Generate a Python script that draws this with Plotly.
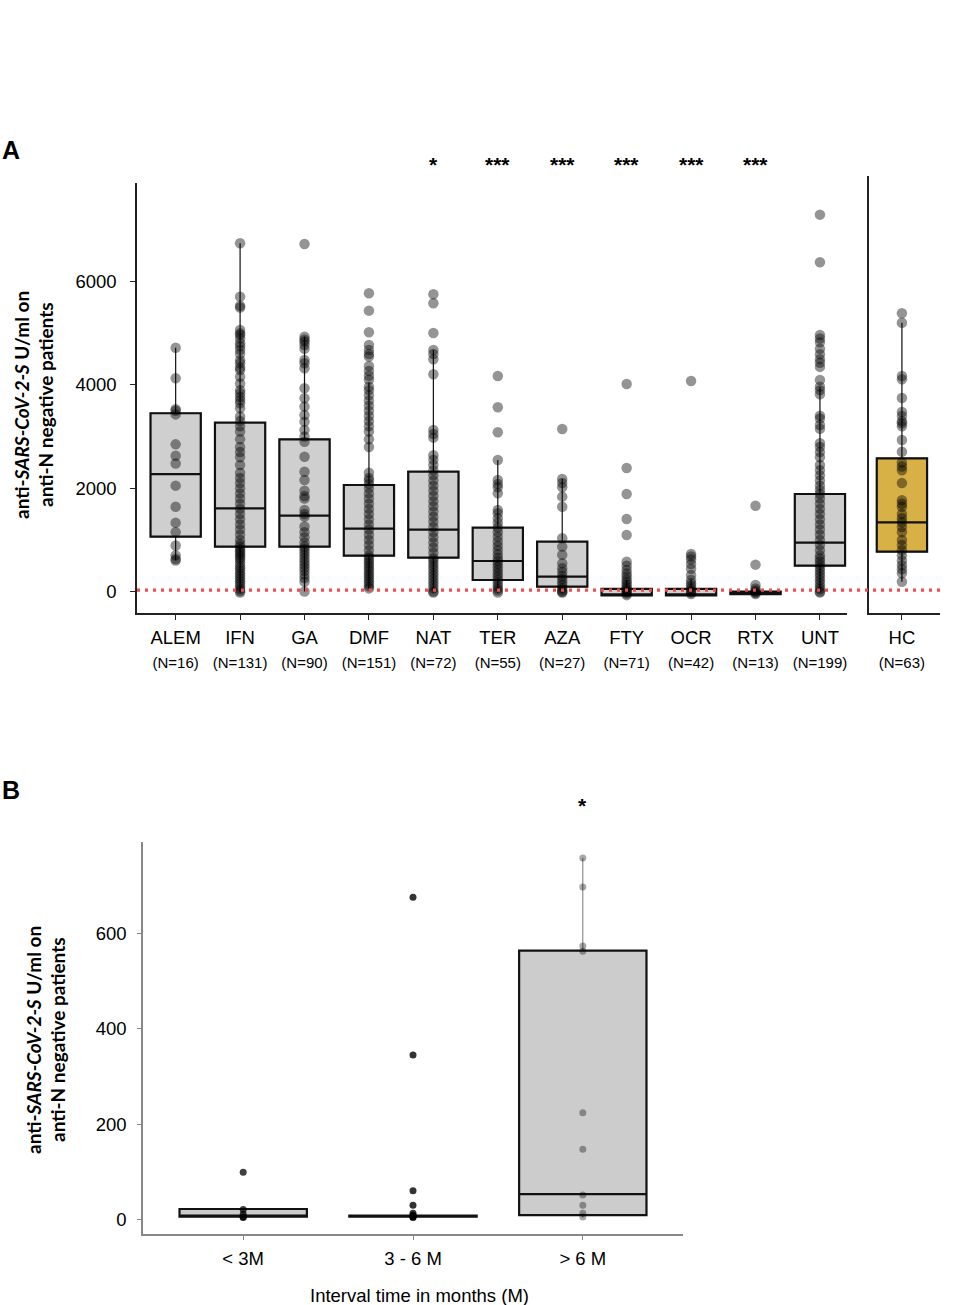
import plotly.graph_objects as go

W, H = 957, 1305

# ---------------- Panel A data ----------------
cats_a = ["ALEM", "IFN", "GA", "DMF", "NAT", "TER", "AZA", "FTY", "OCR", "RTX", "UNT"]
n_a = [16, 131, 90, 151, 72, 55, 27, 71, 42, 13, 199]
stars_a = ["", "", "", "", "*", "***", "***", "***", "***", "***", ""]
q1_a = [1063, 868, 868, 694, 655, 223, 93, -75, -75, -50, 500]
med_a = [2274, 1611, 1468, 1217, 1197, 591, 287, -55, -55, -25, 946]
q3_a = [3452, 3270, 2948, 2063, 2321, 1236, 965, 50, 50, 0, 1889]
lo_a = [600, -20, 0, 60, -20, -20, -20, -75, -75, -50, -20]
hi_a = [4720, 6745, 4935, 4050, 4678, 2547, 2180, 220, 230, 0, 3968]

pts_alem = [4720, 4130, 3530, 3500, 3430, 2850, 2630, 2480, 2050, 1640, 1330, 1150, 890, 700, 630, 600]
pts_ifn = [6745, 5711, 5536, 5500, 5065, 5000, 4970, 4900, 4810, 4750, 4680, 4600, 4480, 4420, 4340,
           4290, 4160, 4030, 3900, 3840, 3770, 3710, 3645, 3550, 3390, 3300, 3200, 3100, 2950, 2800,
           2700, 2600, 2450, 2300, 2200, 2100, 2000, 1900, 1800, 1700, 1600, 1500, 1400, 1300, 1200,
           1100, 1000, 920, 870, 820, 780, 740, 700, 660, 620, 560, 500, 450, 400, 350, 300, 250, 200,
           150, 100, 50, 10, -20]
pts_ga = [6730, 4935, 4880, 4840, 4775, 4700, 4485, 4420, 4323, 3936, 3742, 3581, 3420, 3290, 3129,
          3000, 2900, 2610, 2320, 2160, 1950, 1850, 1800, 1580, 1500, 1450, 1260, 1150, 1050, 950, 870,
          820, 760, 700, 640, 580, 520, 460, 400, 330, 260, 190, 0]
pts_dmf = [5776, 5440, 5021, 4775, 4678, 4600, 4550, 4368, 4270, 4180, 4100, 3968, 3900, 3800, 3700,
           3600, 3500, 3400, 3300, 3200, 3100, 2950, 2800, 2300, 2200, 2150, 2080, 2000, 1900, 1800,
           1700, 1600, 1500, 1400, 1300, 1200, 1100, 1000, 900, 800, 700, 650, 600, 550, 500, 450, 400,
           350, 300, 250, 200, 150, 100, 60]
pts_nat = [5757, 5582, 5007, 4678, 4600, 4498, 4207, 3130, 3050, 2980, 2640, 2550, 2450, 2350, 2250,
           2150, 2050, 1950, 1850, 1750, 1650, 1550, 1450, 1350, 1250, 1150, 1050, 950, 850, 750, 650,
           600, 540, 480, 420, 360, 300, 240, 180, 120, 60, 0, -20]
pts_ter = [4174, 3568, 3084, 2547, 2160, 2080, 2018, 1902, 1579, 1515, 1420, 1330, 1240, 1150, 1060,
           970, 880, 800, 720, 650, 590, 530, 470, 410, 350, 290, 230, 170, 110, 60, 20, -20]
pts_aza = [3148, 2180, 2100, 2020, 1837, 1643, 1030, 870, 710, 545, 450, 380, 300, 240, 180, 120, 60,
           20, -10, -20]
pts_fty = [4019, 2392, 1889, 1404, 1094, 577, 500, 416, 350, 290, 230, 180, 130, 90, 50, 20, -10, -40, -70]
pts_ocr = [4077, 726, 680, 620, 532, 440, 320, 223, 160, 110, 60, 20, -20, -50]
pts_rtx = [1662, 520, 126, 60, 20, -10, -30, -50]
pts_unt = [7299, 6377, 4968, 4900, 4826, 4700, 4594, 4500, 4431, 4350, 4097, 3968, 3900, 3820, 3406,
           3350, 3225, 3150, 2870, 2800, 2700, 2600, 2450, 2350, 2250, 2150, 2050, 1966, 1889, 1800,
           1700, 1600, 1500, 1400, 1300, 1200, 1100, 1000, 900, 800, 700, 640, 580, 520, 460, 400, 340,
           280, 220, 160, 100, 50, 0, -20]

# Healthy controls
cats_hc = ["HC"]
n_hc = [63]
q1_hc = [771]
med_hc = [1340]
q3_hc = [2580]
lo_hc = [190]
hi_hc = [5207]
pts_hc = [5388, 5207, 4174, 4109, 3748, 3477, 3400, 3300, 3258, 3200, 2935, 2708, 2500, 2420, 2350,
          2100, 1770, 1700, 1640, 1500, 1420, 1340, 1250, 1150, 1000, 900, 800, 700, 600, 510, 430,
          355, 190]

cutoff = 25

# ---------------- Panel B data ----------------
cats_b = ["< 3M", "3 - 6 M", "> 6 M"]
stars_b = ["", "", "*"]
q1_b = [7, 7, 10]
med_b = [8, 8, 54]
q3_b = [23, 9, 563]
lo_b = [5, 5, 5]
hi_b = [23, 12, 757]
pts_lt3 = [100, 22, 12, 6, 5]
pts_3to6 = [675, 345, 61, 31, 14, 10, 8, 6, 5]
pts_gt6 = [757, 696, 573, 562, 224, 148, 52, 31, 14, 6]

points_a = [pts_alem, pts_ifn, pts_ga, pts_dmf, pts_nat, pts_ter, pts_aza, pts_fty, pts_ocr, pts_rtx, pts_unt]
points_b = [pts_lt3, pts_3to6, pts_gt6]

FONT = "Liberation Sans, Arial, sans-serif"
TFONT = "Lato, Carlito, Open Sans, sans-serif"

fig = go.Figure()

# ----- Panel A boxes -----
fig.add_trace(go.Box(x=cats_a, q1=q1_a, median=med_a, q3=q3_a, lowerfence=lo_a, upperfence=hi_a,
                     line=dict(color="#111", width=1.2), fillcolor="rgba(0,0,0,0)", whiskerwidth=0,
                     width=0.78, boxpoints=False, xaxis="x", yaxis="y", hoverinfo="skip", showlegend=False))
fig.add_trace(go.Box(x=cats_a, q1=q1_a, median=med_a, q3=q3_a, lowerfence=q1_a, upperfence=q3_a,
                     line=dict(color="#111", width=2.2), fillcolor="rgb(207,207,207)", whiskerwidth=0,
                     width=0.78, boxpoints=False, xaxis="x", yaxis="y", hoverinfo="skip", showlegend=False))
xs, ys = [], []
for c, p in zip(cats_a, points_a):
    xs += [c] * len(p)
    ys += p
fig.add_trace(go.Scatter(x=xs, y=ys, mode="markers", xaxis="x", yaxis="y",
                         marker=dict(size=10.5, color="rgba(0,0,0,0.42)", line=dict(width=0)),
                         hoverinfo="skip", showlegend=False))

# ----- HC -----
fig.add_trace(go.Box(x=cats_hc, q1=q1_hc, median=med_hc, q3=q3_hc, lowerfence=lo_hc, upperfence=hi_hc,
                     line=dict(color="#111", width=1.2), fillcolor="rgba(0,0,0,0)", whiskerwidth=0,
                     width=0.78, boxpoints=False, xaxis="x2", yaxis="y2", hoverinfo="skip", showlegend=False))
fig.add_trace(go.Box(x=cats_hc, q1=q1_hc, median=med_hc, q3=q3_hc, lowerfence=q1_hc, upperfence=q3_hc,
                     line=dict(color="#111", width=2.2), fillcolor="rgb(215,176,70)", whiskerwidth=0,
                     width=0.78, boxpoints=False, xaxis="x2", yaxis="y2", hoverinfo="skip", showlegend=False))
fig.add_trace(go.Scatter(x=cats_hc * len(pts_hc), y=pts_hc, mode="markers", xaxis="x2", yaxis="y2",
                         marker=dict(size=10.5, color="rgba(0,0,0,0.42)", line=dict(width=0)),
                         hoverinfo="skip", showlegend=False))

# ----- Panel B -----
fig.add_trace(go.Box(x=cats_b, q1=q1_b, median=med_b, q3=q3_b, lowerfence=lo_b, upperfence=hi_b,
                     line=dict(color="#777", width=1.0), fillcolor="rgba(0,0,0,0)", whiskerwidth=0,
                     width=0.75, boxpoints=False, xaxis="x3", yaxis="y3", hoverinfo="skip", showlegend=False))
fig.add_trace(go.Box(x=cats_b, q1=q1_b, median=med_b, q3=q3_b, lowerfence=q1_b, upperfence=q3_b,
                     line=dict(color="#111", width=2.2), fillcolor="rgb(204,204,204)", whiskerwidth=0,
                     width=0.75, boxpoints=False, xaxis="x3", yaxis="y3", hoverinfo="skip", showlegend=False))
alphas_b = [0.75, 0.8, 0.35]
for c, p, a in zip(cats_b, points_b, alphas_b):
    fig.add_trace(go.Scatter(x=[c] * len(p), y=p, mode="markers", xaxis="x3", yaxis="y3",
                             marker=dict(size=7, color=f"rgba(0,0,0,{a})", line=dict(width=0)),
                             hoverinfo="skip", showlegend=False))

def py(px):
    return 1 - px / H

def pxx(px):
    return px / W

axis_common = dict(showgrid=False, zeroline=False, showline=True, ticks="outside", mirror=False)

ticktext_a = [f"{c}<br><span style='font-size:15px'>(N={n})</span>" for c, n in zip(cats_a, n_a)]
ticktext_hc = [f"{c}<br><span style='font-size:15px'>(N={n})</span>" for c, n in zip(cats_hc, n_hc)]

fig.update_layout(
    width=W, height=H, autosize=False,
    margin=dict(l=0, r=0, t=0, b=0),
    paper_bgcolor="white", plot_bgcolor="white",
    showlegend=False,
    xaxis=dict(**axis_common, domain=[pxx(137), pxx(847)], range=[-0.6, 10.42], type="category",
               categoryorder="array", categoryarray=cats_a, tickvals=cats_a, ticktext=ticktext_a,
               linecolor="#222", linewidth=1.5, tickcolor="#222", ticklen=5, anchor="y",
               ticklabelstandoff=2,
               tickfont=dict(family=FONT, size=18.5, color="black")),
    yaxis=dict(**axis_common, domain=[py(613.3), py(183.3)], range=[-422, 7906],
               tickvals=[0, 2000, 4000, 6000], linecolor="#222", linewidth=1.5, tickcolor="#222",
               ticklen=5, anchor="x", ticklabelstandoff=10,
               tickfont=dict(family=FONT, size=18.5, color="black")),
    xaxis2=dict(**axis_common, domain=[pxx(869), pxx(940)], range=[-0.51, 0.59], type="category",
                tickvals=cats_hc, ticktext=ticktext_hc, linecolor="#222", linewidth=1.5,
                tickcolor="#222", ticklen=5, anchor="y2", ticklabelstandoff=2,
                tickfont=dict(family=FONT, size=18.5, color="black")),
    yaxis2=dict(showgrid=False, zeroline=False, showline=True, ticks="", showticklabels=False,
                domain=[py(613.3), py(176)], range=[-422, 8048], linecolor="#222", linewidth=1.5,
                anchor="x2"),
    xaxis3=dict(**axis_common, domain=[pxx(143), pxx(683)], range=[-0.59, 2.59], type="category",
                categoryorder="array", categoryarray=cats_b, linecolor="#888", linewidth=1.5,
                tickcolor="#888", ticklen=4, anchor="y3", ticklabelstandoff=3,
                tickfont=dict(family=FONT, size=18.5, color="black")),
    yaxis3=dict(**axis_common, domain=[py(1234), py(842)], range=[-29.3, 790.3],
                tickvals=[0, 200, 400, 600], linecolor="#888", linewidth=1.5, tickcolor="#888",
                ticklen=4, anchor="x3", ticklabelstandoff=7,
                tickfont=dict(family=FONT, size=18.5, color="black")),
)

# cutoff dotted line
fig.add_shape(type="line", xref="paper", yref="y", x0=pxx(137), x1=pxx(940), y0=cutoff, y1=cutoff,
              line=dict(color="rgb(232,80,80)", width=3.2, dash="3px,5px"), layer="above")

ann = []
ann.append(dict(text="<b>A</b>", x=pxx(0), y=py(150), xref="paper", yref="paper", xanchor="left",
                yanchor="middle", showarrow=False, font=dict(family=FONT, size=25, color="black")))
ann.append(dict(text="<b>B</b>", x=pxx(0), y=py(790), xref="paper", yref="paper", xanchor="left",
                yanchor="middle", showarrow=False, font=dict(family=FONT, size=25, color="black")))
line1 = "<b>anti-<i>SARS-CoV-2-S</i> U/ml on</b>"
line2 = "<b>anti-N negative patients</b>"
for (xc, yc) in [(22, 405), (33, 1040)]:
    ann.append(dict(text=line1, x=pxx(xc), y=py(yc), xref="paper", yref="paper", textangle=-90,
                    xanchor="center", yanchor="middle", showarrow=False,
                    font=dict(family=TFONT, size=19, color="black")))
    ann.append(dict(text=line2, x=pxx(xc + 24), y=py(yc), xref="paper", yref="paper", textangle=-90,
                    xanchor="center", yanchor="middle", showarrow=False,
                    font=dict(family=TFONT, size=19, color="black")))
for c, s in zip(cats_a, stars_a):
    if s:
        ann.append(dict(text=f"<b>{s}</b>", x=c, y=py(165), xref="x", yref="paper", xanchor="center",
                        yanchor="middle", showarrow=False, font=dict(family=FONT, size=21, color="black")))
for c, s in zip(cats_b, stars_b):
    if s:
        ann.append(dict(text=f"<b>{s}</b>", x=c, y=py(805), xref="x3", yref="paper", xanchor="center",
                        yanchor="middle", showarrow=False, font=dict(family=FONT, size=21, color="black")))
ann.append(dict(text="Interval time in months (M)", x=pxx(419), y=py(1295), xref="paper", yref="paper",
                xanchor="center", yanchor="middle", showarrow=False,
                font=dict(family=FONT, size=18.5, color="black")))
fig.update_layout(annotations=ann)

fig.write_html("out.html", config={"displayModeBar": False},
               post_script="document.body.style.margin='0px';document.body.style.padding='0px';")
